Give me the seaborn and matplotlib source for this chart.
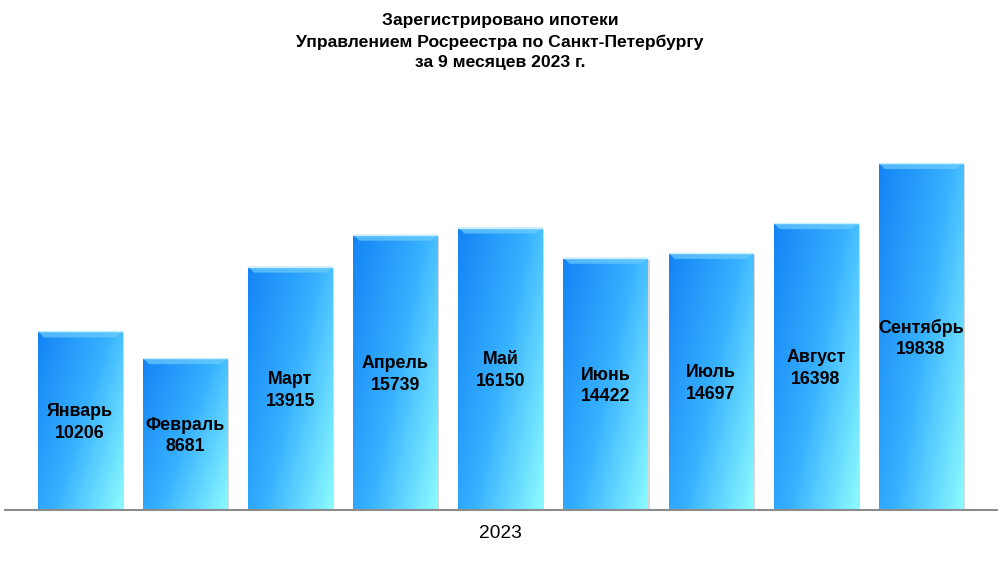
import numpy as np
import pandas as pd
import matplotlib
matplotlib.use("Agg")
import matplotlib.pyplot as plt
import seaborn as sns
from matplotlib.colors import LinearSegmentedColormap
from matplotlib.patches import Polygon

months = ["Январь", "Февраль", "Март", "Апрель", "Май", "Июнь", "Июль", "Август", "Сентябрь"]
values = [10206, 8681, 13915, 15739, 16150, 14422, 14697, 16398, 19838]
title_lines = ["Зарегистрировано ипотеки",
               "Управлением Росреестра по Санкт-Петербургу",
               "за 9 месяцев 2023 г."]
x_label = "2023"

sns.set_theme(style="white")
plt.rcParams['font.family'] = ['Liberation Sans', 'DejaVu Sans']
plt.rcParams['text.color'] = 'black'

df = pd.DataFrame({"month": months, "value": values})

fig = plt.figure(figsize=(10, 5.62), dpi=100)
ax = fig.add_axes([0.005, 1 - 510 / 562, 0.992, (510 - 100) / 562])

sns.barplot(data=df, x="month", y="value", ax=ax, width=0.8,
            color="#3fb0ff", saturation=1, edgecolor="none")

ax.set_xlim(-0.714, 8.725)
ax.set_ylim(0, 23440)

cmap = LinearSegmentedColormap.from_list("g", ["#1484f5", "#36b0ff", "#8cfbff"])
uu, vv = np.meshgrid(np.linspace(0, 1, 60), np.linspace(0, 1, 120))
grad = 0.6 * uu + 0.4 * vv

px_y = 410 / 23440  # pixels per data unit (y)
px_x = 105.1        # pixels per category

for p, v, m in zip(ax.patches, values, months):
    x0, w = p.get_x(), p.get_width()
    h = p.get_height()
    # shadow
    ax.add_patch(plt.Rectangle((x0 + 2 / px_x, 0), w, h - 2 / px_y,
                               facecolor="#b0b0b0", edgecolor="none", alpha=0.5, zorder=1.5))
    p.set_facecolor("none")
    im = ax.imshow(grad, extent=(x0, x0 + w, 0, h), origin="upper", cmap=cmap,
                   aspect="auto", zorder=2, interpolation="bilinear")
    im.set_clip_path(p)
    # top bevel
    bh = 6 / px_y
    bw = 6 / px_x
    ax.add_patch(Polygon([(x0, h), (x0 + w, h), (x0 + w - bw, h - bh), (x0 + bw, h - bh)],
                         closed=True, facecolor="#6cccff", edgecolor="none", alpha=0.7, zorder=3))
    ax.plot([x0, x0 + w], [h, h], color="#c8f0ff", lw=1, zorder=3.5)
    ax.text(x0 + w / 2, h / 2 - 2 / px_y, f"{m}\n{v}", ha="center", va="center",
            fontsize=12.8, fontweight="bold", color="black", linespacing=1.35, zorder=4)

ax.set_xticks([])
ax.set_yticks([])
ax.set_xlabel("")
ax.set_ylabel("")
for s in ["top", "left", "right"]:
    ax.spines[s].set_visible(False)
ax.spines["bottom"].set_color("#8c8c8c")
ax.spines["bottom"].set_linewidth(1.5)
ax.spines["bottom"].set_zorder(5)

for i, yy in enumerate([21, 42, 62]):
    fig.text(0.5, 1 - yy / 562, title_lines[i], ha="center", va="center",
             fontsize=12.6, fontweight="bold", color="black")
fig.text(0.5, 1 - 533 / 562, x_label, ha="center", va="center", fontsize=13.8, color="black")

fig.savefig("out.png", dpi=100, facecolor="white")
